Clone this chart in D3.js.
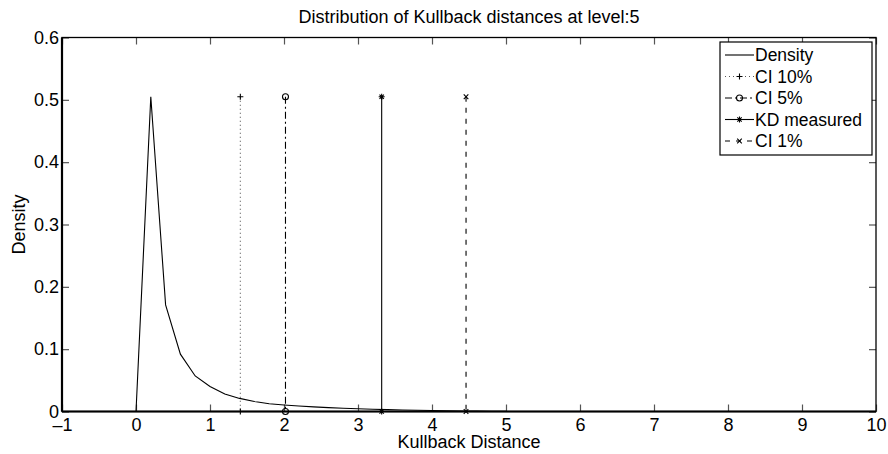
<!DOCTYPE html>
<html>
<head>
<meta charset="utf-8">
<script src="https://cdn.jsdelivr.net/npm/d3@7"></script>
<style>
  html, body { margin: 0; padding: 0; background: #fff; }
  svg { display: block; font-family: "Liberation Sans", Arial, Helvetica, sans-serif; }
</style>
</head>
<body>
<svg id="chart" width="888" height="454"></svg>
<script>
// Histogram density of Kullback distances (bin centres and heights)
const binCenters = [0, 0.2, 0.4, 0.6, 0.8, 1.0, 1.2, 1.4, 1.6, 1.8, 2.0, 2.2, 2.4, 2.6, 2.8, 3.0, 3.2, 3.4, 3.6, 3.8, 4.0, 4.2, 4.4, 4.6, 4.8, 5.0];
const densityValues = [0, 0.505, 0.171, 0.092, 0.057, 0.040, 0.028, 0.021, 0.016, 0.0125, 0.0105, 0.0088, 0.0074, 0.0062, 0.0052, 0.0043, 0.0036, 0.003, 0.0025, 0.002, 0.0016, 0.0012, 0.0009, 0.0006, 0.0004, 0.0002];

// Reference distances drawn as vertical stems
const markerNames = ["CI 10%", "CI 5%", "KD measured", "CI 1%"];
const markerValues = [1.41, 2.02, 3.32, 4.46];

const xTicks = [-1, 0, 1, 2, 3, 4, 5, 6, 7, 8, 9, 10];
const yTicks = [0, 0.1, 0.2, 0.3, 0.4, 0.5, 0.6];

const titleText = "Distribution of Kullback distances at level:5";
const xLabelText = "Kullback Distance";
const yLabelText = "Density";

const svg = d3.select("#chart");
const L = 62, R = 876, T = 37.5, B = 411.5;

const x = d3.scaleLinear().domain([-1, 10]).range([L, R]);
const y = d3.scaleLinear().domain([0, 0.6]).range([B, T]);

const fontSize = 18;
const tickLen = 7;

// Axes: ticks pointing inwards on all four sides (boxed plot)
const gx = svg.append("g").attr("transform", `translate(0,${B})`)
  .call(d3.axisBottom(x).tickValues(xTicks).tickSizeInner(-tickLen).tickSizeOuter(0).tickPadding(7)
    .tickFormat(d => d < 0 ? "\u2013" + Math.abs(d) : String(d)));
const gxTop = svg.append("g").attr("transform", `translate(0,${T})`)
  .call(d3.axisTop(x).tickValues(xTicks).tickSizeInner(-tickLen).tickSizeOuter(0).tickFormat(""));
const gy = svg.append("g").attr("transform", `translate(${L},0)`)
  .call(d3.axisLeft(y).tickValues(yTicks).tickSizeInner(-tickLen).tickSizeOuter(0).tickPadding(3)
    .tickFormat(d => d === 0 ? "0" : d3.format(".1f")(d)));
const gyRight = svg.append("g").attr("transform", `translate(${R},0)`)
  .call(d3.axisRight(y).tickValues(yTicks).tickSizeInner(-tickLen).tickSizeOuter(0).tickFormat(""));

[gx, gxTop, gy, gyRight].forEach(g => {
  g.select(".domain").remove();
  g.selectAll(".tick line").attr("stroke", "#555").attr("stroke-width", 1.2);
  g.selectAll(".tick text").attr("fill", "#000").style("font-size", fontSize + "px")
    .style("font-family", "'Liberation Sans', Arial, sans-serif");
});

// Plot frame
svg.append("rect").attr("x", L).attr("y", T).attr("width", R - L).attr("height", B - T)
  .attr("fill", "none").attr("stroke", "#000").attr("stroke-width", 1.3);
svg.append("line").attr("x1", L).attr("x2", R).attr("y1", B).attr("y2", B)
  .attr("stroke", "#000").attr("stroke-width", 2.2);
svg.append("line").attr("x1", L).attr("x2", L).attr("y1", T).attr("y2", B)
  .attr("stroke", "#000").attr("stroke-width", 2.2);

// Density curve
const densityData = binCenters.map((c, i) => [c, densityValues[i]]);
svg.append("path").datum(densityData)
  .attr("fill", "none").attr("stroke", "#000").attr("stroke-width", 1.1)
  .attr("d", d3.line().x(d => x(d[0])).y(d => y(d[1])));

const stemTop = d3.max(densityValues);

const styles = {
  "CI 10%": { dash: "1,3", color: "#555", marker: "plus" },
  "CI 5%": { dash: "7,3,2,3", color: "#000", marker: "circle" },
  "KD measured": { dash: null, color: "#000", marker: "star" },
  "CI 1%": { dash: "5,6", color: "#000", marker: "cross" }
};

function drawMarker(g, type, cx, cy) {
  const s = 3;
  if (type === "plus") {
    g.append("path").attr("d", `M${cx - s},${cy}H${cx + s}M${cx},${cy - s}V${cy + s}`)
      .attr("stroke", "#000").attr("stroke-width", 1.1).attr("fill", "none");
  } else if (type === "circle") {
    g.append("circle").attr("cx", cx).attr("cy", cy).attr("r", 3)
      .attr("stroke", "#000").attr("stroke-width", 1.1).attr("fill", "none");
  } else if (type === "star") {
    g.append("path").attr("d",
      `M${cx - s},${cy}H${cx + s}M${cx},${cy - s}V${cy + s}M${cx - 2.2},${cy - 2.2}L${cx + 2.2},${cy + 2.2}M${cx - 2.2},${cy + 2.2}L${cx + 2.2},${cy - 2.2}`)
      .attr("stroke", "#000").attr("stroke-width", 1.1).attr("fill", "none");
  } else if (type === "cross") {
    const c = 2.3;
    g.append("path").attr("d", `M${cx - c},${cy - c}L${cx + c},${cy + c}M${cx - c},${cy + c}L${cx + c},${cy - c}`)
      .attr("stroke", "#000").attr("stroke-width", 1.1).attr("fill", "none");
  }
}

// Vertical stems with markers at both ends
markerNames.forEach((name, i) => {
  const st = styles[name];
  const g = svg.append("g");
  const px = x(markerValues[i]);
  g.append("line").attr("x1", px).attr("x2", px).attr("y1", y(stemTop)).attr("y2", y(0))
    .attr("stroke", st.color).attr("stroke-width", 1.1)
    .attr("stroke-dasharray", st.dash);
  drawMarker(g, st.marker, px, y(stemTop));
  drawMarker(g, st.marker, px, y(0));
});

// Legend
const legend = svg.append("g");
const lx = 720, ly = 42, lw = 152, lh = 113;
legend.append("rect").attr("x", lx).attr("y", ly).attr("width", lw).attr("height", lh)
  .attr("fill", "#fff").attr("stroke", "#000").attr("stroke-width", 1.2);
const entries = ["Density"].concat(markerNames);
entries.forEach((name, i) => {
  const cy = ly + 13 + i * 21.5;
  const x1 = lx + 5, x2 = lx + 34;
  if (name === "Density") {
    legend.append("line").attr("x1", x1).attr("x2", x2).attr("y1", cy).attr("y2", cy)
      .attr("stroke", "#000").attr("stroke-width", 1.1);
  } else {
    const st = styles[name];
    legend.append("line").attr("x1", x1).attr("x2", x2).attr("y1", cy).attr("y2", cy)
      .attr("stroke", st.color).attr("stroke-width", 1.1).attr("stroke-dasharray", st.dash);
    drawMarker(legend, st.marker, (x1 + x2) / 2, cy);
  }
  legend.append("text").attr("x", lx + 35).attr("y", cy + 6.4)
    .style("font-size", "17.5px").text(name);
});

// Titles
svg.append("text").attr("x", (L + R) / 2).attr("y", 23).attr("text-anchor", "middle")
  .style("font-size", "18px").text(titleText);
svg.append("text").attr("x", (L + R) / 2).attr("y", 447.5).attr("text-anchor", "middle")
  .style("font-size", fontSize + "px").text(xLabelText);
svg.append("text").attr("transform", `translate(25,${(T + B) / 2}) rotate(-90)`)
  .attr("text-anchor", "middle").style("font-size", fontSize + "px").text(yLabelText);
</script>
</body>
</html>
